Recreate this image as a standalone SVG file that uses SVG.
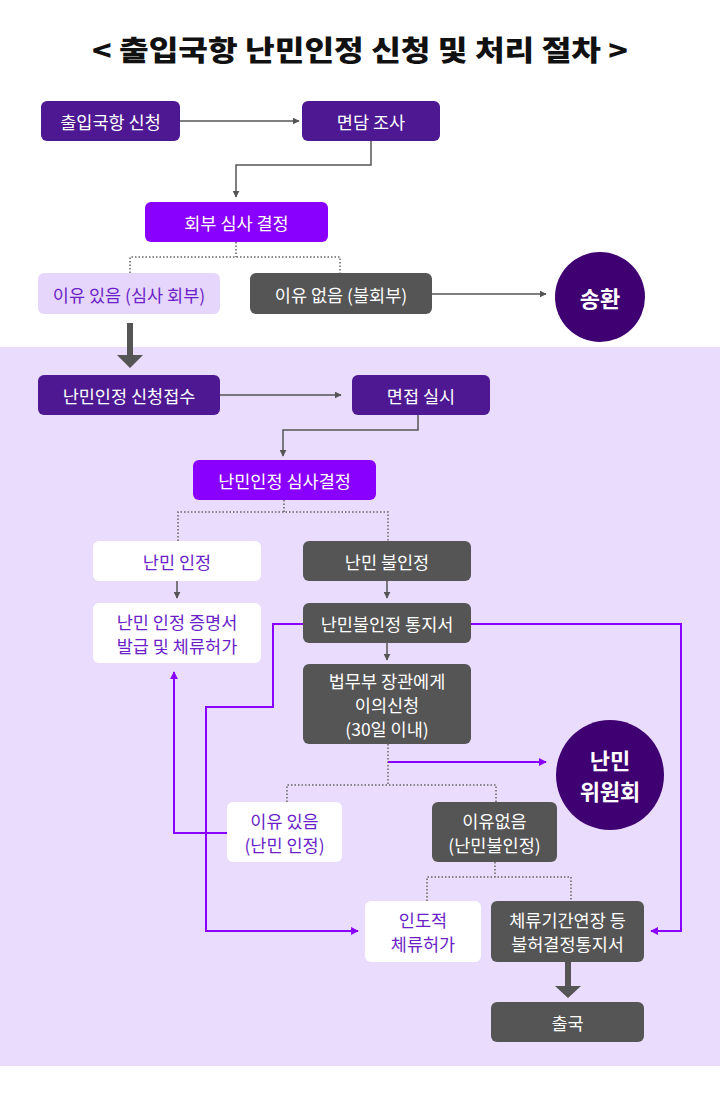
<svg xmlns="http://www.w3.org/2000/svg" width="720" height="1111" viewBox="0 0 720 1111">
<style>
text{font-family:"Noto Sans CJK KR","Noto Sans",sans-serif;text-anchor:middle;dominant-baseline:central}
.t{font-size:17.5px;fill:#ffffff}
.tp{font-size:17.5px;fill:#6a1fc7}
.dp{fill:#4d1892}
.bp{fill:#8a00ff}
.gr{fill:#555555}
.wh{fill:#ffffff}
.lv{fill:#e6d6fb}
.c{fill:#3f0071}
.ct{font-size:22px;font-weight:bold;fill:#ffffff}
.ln{fill:none;stroke:#555555;stroke-width:1.5}
.dt{fill:none;stroke:#666666;stroke-width:1.5;stroke-dasharray:1.5 2}
.pl{fill:none;stroke:#8a00ff;stroke-width:2}
</style>
<defs>
<marker id="ag" viewBox="0 0 10 10" refX="9" refY="5" markerWidth="7" markerHeight="7" markerUnits="userSpaceOnUse" orient="auto"><path d="M0,0L10,5L0,10z" fill="#555555"/></marker>
<marker id="ap" viewBox="0 0 10 10" refX="9" refY="5" markerWidth="8" markerHeight="8" markerUnits="userSpaceOnUse" orient="auto"><path d="M0,0L10,5L0,10z" fill="#8a00ff"/></marker>
</defs>
<rect x="0" y="0" width="720" height="1111" fill="#ffffff"/>
<rect x="0" y="347" width="720" height="719" fill="#e9dcfc"/>
<text x="360" y="49" font-size="28" font-weight="900" fill="#111111" textLength="536" lengthAdjust="spacingAndGlyphs">&lt; 출입국항 난민인정 신청 및 처리 절차 &gt;</text>

<g id="connectors">
<path class="ln" d="M180,121H299" marker-end="url(#ag)"/>
<path class="ln" d="M371,141V165H236V197" marker-end="url(#ag)"/>
<path class="dt" d="M236,242V257M130,273V257H340V273"/>
<path class="ln" d="M432,294H546" marker-end="url(#ag)"/>
<path d="M127,323h6v32h10l-13,13l-13,-13h10z" fill="#555555"/>
<path class="ln" d="M220,395H341" marker-end="url(#ag)"/>
<path class="ln" d="M418,415V430H283V456" marker-end="url(#ag)"/>
<path class="dt" d="M284,500V512M178,541V512H388V541"/>
<path class="ln" d="M177,581V598" marker-end="url(#ag)"/>
<path class="ln" d="M387,581V598" marker-end="url(#ag)"/>
<path class="ln" d="M387,643V660" marker-end="url(#ag)"/>
<path class="dt" d="M388,744V785M287,802V785H496V802"/>
<path class="pl" d="M388,762H546" marker-end="url(#ap)"/>
<path class="dt" d="M495,862V877M427,901V877H571V901"/>
<path class="pl" d="M303,624H273V707H206V931H358" marker-end="url(#ap)"/>
<path class="pl" d="M471,624H681V931H651" marker-end="url(#ap)"/>
<path class="pl" d="M227,833H174V672" marker-end="url(#ap)"/>
<path d="M565,962h6v24h10l-13,12l-13,-12h10z" fill="#555555"/>
</g>

<g id="n1"><rect class="dp" x="41" y="101" width="139" height="40" rx="6"/><text class="t" x="110.5" y="121">출입국항 신청</text></g>
<g id="n2"><rect class="dp" x="302" y="101" width="138" height="40" rx="6"/><text class="t" x="371" y="121">면담 조사</text></g>
<g id="n3"><rect class="bp" x="145" y="202" width="183" height="40" rx="6"/><text class="t" x="236.5" y="222">회부 심사 결정</text></g>
<g id="n4"><rect class="lv" x="38" y="273" width="182" height="41" rx="6"/><text class="tp" x="129" y="294">이유 있음 (심사 회부)</text></g>
<g id="n5"><rect class="gr" x="250" y="273" width="182" height="41" rx="6"/><text class="t" x="341" y="294">이유 없음 (불회부)</text></g>
<g id="n6"><ellipse class="c" cx="600" cy="297" rx="45" ry="45"/><text class="ct" x="600" y="297" font-size="24">송환</text></g>
<g id="n7"><rect class="dp" x="38" y="375" width="182" height="40" rx="6"/><text class="t" x="129" y="395">난민인정 신청접수</text></g>
<g id="n8"><rect class="dp" x="352" y="375" width="138" height="40" rx="6"/><text class="t" x="421" y="395">면접 실시</text></g>
<g id="n9"><rect class="bp" x="193" y="460" width="183" height="40" rx="6"/><text class="t" x="284.5" y="480">난민인정 심사결정</text></g>
<g id="n10"><rect class="wh" x="93" y="541" width="168" height="40" rx="6"/><text class="tp" x="177" y="561">난민 인정</text></g>
<g id="n11"><rect class="gr" x="303" y="541" width="168" height="40" rx="6"/><text class="t" x="387" y="561">난민 불인정</text></g>
<g id="n12"><rect class="wh" x="93" y="603" width="168" height="60" rx="6"/><text class="tp" x="177" y="621">난민 인정 증명서</text><text class="tp" x="177" y="645">발급 및 체류허가</text></g>
<g id="n13"><rect class="gr" x="303" y="603" width="168" height="40" rx="6"/><text class="t" x="387" y="623">난민불인정 통지서</text></g>
<g id="n14"><rect class="gr" x="303" y="664" width="168" height="80" rx="6"/><text class="t" x="387" y="680">법무부 장관에게</text><text class="t" x="387" y="704">이의신청</text><text class="t" x="387" y="728">(30일 이내)</text></g>
<g id="n15"><ellipse class="c" cx="610" cy="775" rx="54" ry="55"/><text class="ct" x="610" y="759">난민</text><text class="ct" x="610" y="790">위원회</text></g>
<g id="n16"><rect class="wh" x="227" y="802" width="115" height="60" rx="6"/><text class="tp" x="284.5" y="820">이유 있음</text><text class="tp" x="284.5" y="844">(난민 인정)</text></g>
<g id="n17"><rect class="gr" x="432" y="802" width="125" height="60" rx="6"/><text class="t" x="494.5" y="820">이유없음</text><text class="t" x="494.5" y="844">(난민불인정)</text></g>
<g id="n18"><rect class="wh" x="365" y="901" width="116" height="61" rx="6"/><text class="tp" x="423" y="919.5">인도적</text><text class="tp" x="423" y="943.5">체류허가</text></g>
<g id="n19"><rect class="gr" x="491" y="901" width="153" height="61" rx="6"/><text class="t" x="567.5" y="919.5">체류기간연장 등</text><text class="t" x="567.5" y="943.5">불허결정통지서</text></g>
<g id="n20"><rect class="gr" x="491" y="1002" width="153" height="40" rx="6"/><text class="t" x="567.5" y="1022">출국</text></g>
</svg>
